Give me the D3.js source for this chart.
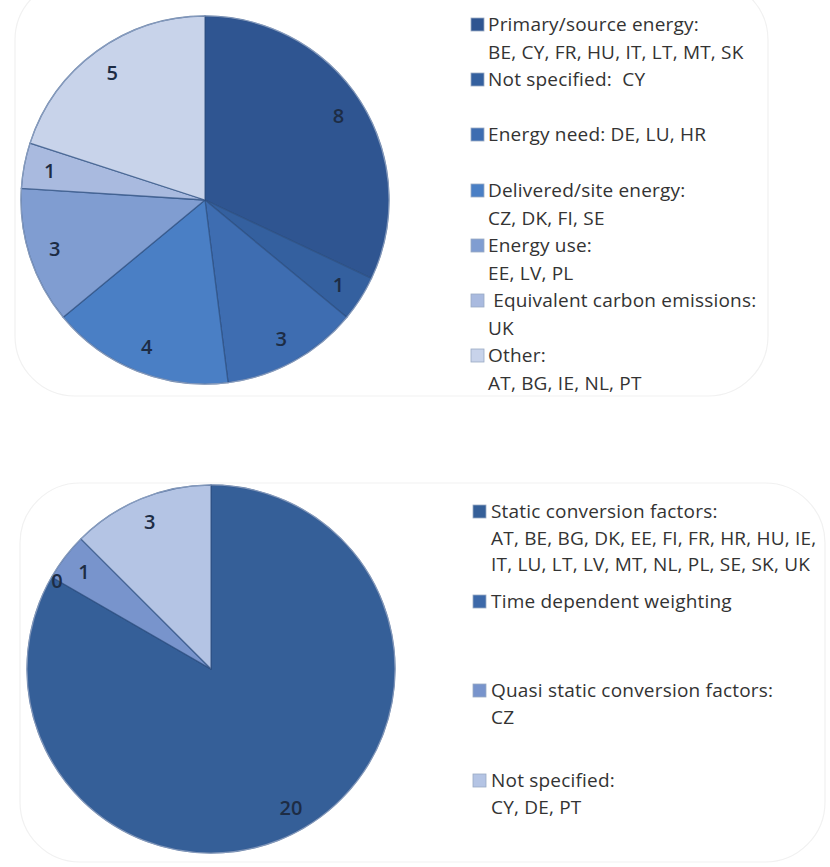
<!DOCTYPE html>
<html><head><meta charset="utf-8">
<script src="https://cdn.jsdelivr.net/npm/d3@7"></script>
<style>
html,body{margin:0;padding:0;background:#fff;}
svg{display:block;}
</style></head>
<body>
<svg id="chart" width="830" height="867"></svg>
<script>
// ---------- Data ----------
const topCategories = ["Primary/source energy", "Not specified", "Energy need", "Delivered/site energy", "Energy use", "Equivalent carbon emissions", "Other"];
const topValues = [8, 1, 3, 4, 3, 1, 5];
const topColors = ["#2f5591", "#34609f", "#3e6db1", "#4a7fc5", "#809dd1", "#a9badf", "#c8d3ea"];
const topLegendLines = [
  ["Primary/source energy:", "BE, CY, FR, HU, IT, LT, MT, SK"],
  ["Not specified:  CY"],
  ["Energy need: DE, LU, HR"],
  ["Delivered/site energy:", "CZ, DK, FI, SE"],
  ["Energy use:", "EE, LV, PL"],
  [" Equivalent carbon emissions:", "UK"],
  ["Other:", "AT, BG, IE, NL, PT"]
];

const bottomCategories = ["Static conversion factors", "Time dependent weighting", "Quasi static conversion factors", "Not specified"];
const bottomValues = [20, 0, 1, 3];
const bottomColors = ["#355f98", "#3d69a9", "#7894cc", "#b4c4e4"];
const bottomLegendLines = [
  ["Static conversion factors:", "AT, BE, BG, DK, EE, FI, FR, HR, HU, IE,", "IT, LU, LT, LV, MT, NL, PL, SE, SK, UK"],
  ["Time dependent weighting"],
  ["Quasi static conversion factors:", "CZ"],
  ["Not specified:", "CY, DE, PT"]
];

// ---------- Drawing ----------
const svg = d3.select("#chart");
const FONT = "'Open Sans', 'Noto Sans', sans-serif";

// faint panel frames
svg.append("rect").attr("x", 15).attr("y", -20).attr("width", 753).attr("height", 416)
  .attr("rx", 60).attr("fill", "none").attr("stroke", "#f1f1f1").attr("stroke-width", 1.2);
svg.append("rect").attr("x", 20).attr("y", 483).attr("width", 805).attr("height", 379)
  .attr("rx", 60).attr("fill", "none").attr("stroke", "#f1f1f1").attr("stroke-width", 1.2);

function drawPie(cfg) {
  const pie = d3.pie().sort(null).value(d => d)(cfg.values);
  const g = svg.append("g").attr("transform", `translate(${cfg.cx},${cfg.cy})`);
  const arc = d3.arc().innerRadius(0).outerRadius(cfg.r);
  const labelArc = d3.arc().innerRadius(cfg.lr).outerRadius(cfg.lr);
  g.selectAll("path.slice").data(pie).join("path")
    .attr("class", "slice")
    .attr("d", arc)
    .attr("fill", (d, i) => cfg.colors[i])
    .attr("stroke", "#2c4f80")
    .attr("stroke-opacity", 0.7)
    .attr("stroke-width", 1.3)
    .attr("stroke-linejoin", "round");
  // outer rim
  g.append("circle").attr("r", cfg.r).attr("fill", "none")
    .attr("stroke", "#8ea3c4").attr("stroke-width", 1.2).attr("stroke-opacity", 0.8);
  g.selectAll("text.lbl").data(pie).join("text")
    .attr("class", "lbl")
    .attr("transform", d => {
      const rr = d.value === 0 ? cfg.r - 6 : cfg.lr;
      const c = d3.arc().innerRadius(rr).outerRadius(rr).centroid(d);
      return `translate(${c[0]},${c[1]})`;
    })
    .attr("text-anchor", "middle")
    .attr("dominant-baseline", "central")
    .attr("font-family", FONT)
    .attr("font-size", 20)
    .attr("font-weight", 600)
    .attr("fill", "#1d2c44")
    .text(d => d.data);
}

function drawLegend(cfg) {
  const g = svg.append("g");
  cfg.lines.forEach((entry, i) => {
    const y0 = cfg.ys[i];
    g.append("rect").attr("x", cfg.x).attr("y", y0 - 6).attr("width", 13).attr("height", 13)
      .attr("fill", cfg.colors[i]).attr("stroke", "#9aaac4").attr("stroke-width", 0.8);
    entry.forEach((line, j) => {
      g.append("text")
        .attr("x", cfg.tx)
        .attr("y", y0 + j * cfg.lh)
        .attr("dominant-baseline", "central")
        .attr("font-family", FONT)
        .attr("font-size", 19)
        .attr("letter-spacing", 0.2)
        .attr("fill", "#333")
        .attr("xml:space", "preserve")
        .style("white-space", "pre")
        .text(line);
    });
  });
}

drawPie({ cx: 205, cy: 200, r: 184, lr: 158, values: topValues, colors: topColors });
drawLegend({ x: 471, tx: 488, lh: 27.5, ys: [24, 79, 134, 190, 245, 300, 355], lines: topLegendLines, colors: topColors });

drawPie({ cx: 211, cy: 669, r: 184, lr: 160, values: bottomValues, colors: bottomColors });
drawLegend({ x: 473, tx: 491, lh: 26.5, ys: [511, 601, 690, 780], lines: bottomLegendLines, colors: bottomColors });
</script>
</body></html>
